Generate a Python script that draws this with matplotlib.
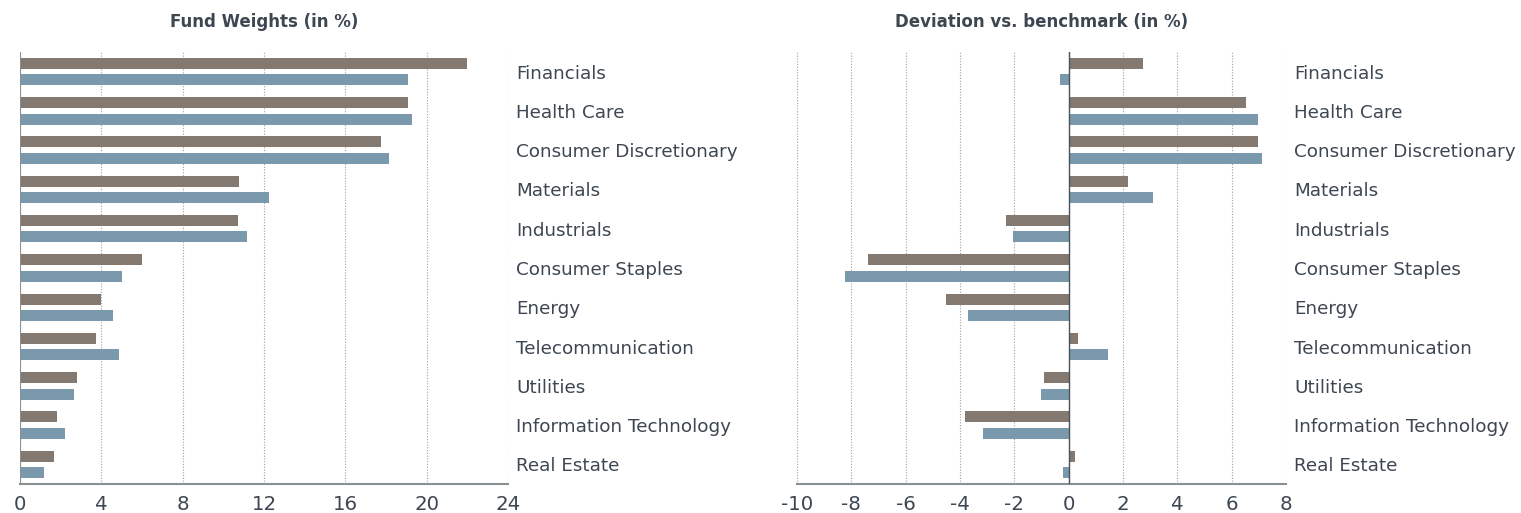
import matplotlib
matplotlib.use("Agg")
import matplotlib.pyplot as plt
import numpy as np

# sector names, top to bottom
sectors = ["Financials", "Health Care", "Consumer Discretionary", "Materials",
           "Industrials", "Consumer Staples", "Energy", "Telecommunication",
           "Utilities", "Information Technology", "Real Estate"]

# fund weights (in %)
weights_a = [22.0, 19.07, 17.74, 10.76, 10.71, 6.0, 4.0, 3.73, 2.80, 1.82, 1.67]
weights_b = [19.1, 19.26, 18.13, 12.24, 11.15, 5.01, 4.57, 4.86, 2.65, 2.21, 1.18]

# deviation vs. benchmark (in %)
dev_a = [2.73, 6.53, 6.97, 2.18, -2.31, -7.39, -4.52, 0.34, -0.91, -3.82, 0.23]
dev_b = [-0.32, 6.97, 7.11, 3.10, -2.05, -8.24, -3.71, 1.45, -1.02, -3.16, -0.21]

weight_ticks = [0, 4, 8, 12, 16, 20, 24]
dev_ticks = [-10, -8, -6, -4, -2, 0, 2, 4, 6, 8]

brown = "#837970"
blue = "#7a99ad"
text_col = "#3d4752"
spine_col = "#8a8f94"

fig = plt.figure(figsize=(15.21, 5.13), dpi=100)
ax1 = fig.add_axes([20 / 1521, 29 / 513, 488 / 1521, 432 / 513])
ax2 = fig.add_axes([797 / 1521, 29 / 513, 489 / 1521, 432 / 513])

y = np.arange(len(sectors))
off = 0.21
h = 0.28


def style(ax, vals_a, vals_b, ticks, title):
    ax.barh(y - off, vals_a, height=h, color=brown, zorder=3)
    ax.barh(y + off, vals_b, height=h, color=blue, zorder=3)
    ax.set_ylim(len(sectors) - 0.5, -0.5)
    ax.set_xlim(ticks[0], ticks[-1])
    ax.set_xticks(ticks)
    ax.set_xticklabels([str(t) for t in ticks])
    ax.set_yticks(y)
    ax.set_yticklabels(sectors)
    ax.yaxis.tick_right()
    ax.tick_params(axis="y", length=0, pad=6, labelsize=13.2, labelcolor=text_col)
    ax.tick_params(axis="x", length=0, pad=8, labelsize=14.2, labelcolor=text_col)
    for t in ticks:
        ax.axvline(t, color="#a0a0a0", linestyle=(0, (1, 1.5)), linewidth=0.8, zorder=1)
    for s in ["top", "right", "left"]:
        ax.spines[s].set_visible(False)
    ax.spines["bottom"].set_color(spine_col)
    ax.spines["bottom"].set_linewidth(1.5)
    ax.set_title(title, fontsize=12, fontweight="bold", color=text_col, pad=18)


style(ax1, weights_a, weights_b, weight_ticks, "Fund Weights (in %)")
style(ax2, dev_a, dev_b, dev_ticks, "Deviation vs. benchmark (in %)")

ax1.axvline(0, color=spine_col, linewidth=1.5, zorder=4)
ax2.axvline(0, color="#4a525a", linewidth=1.0, zorder=4)

fig.savefig("out.png", dpi=100)
